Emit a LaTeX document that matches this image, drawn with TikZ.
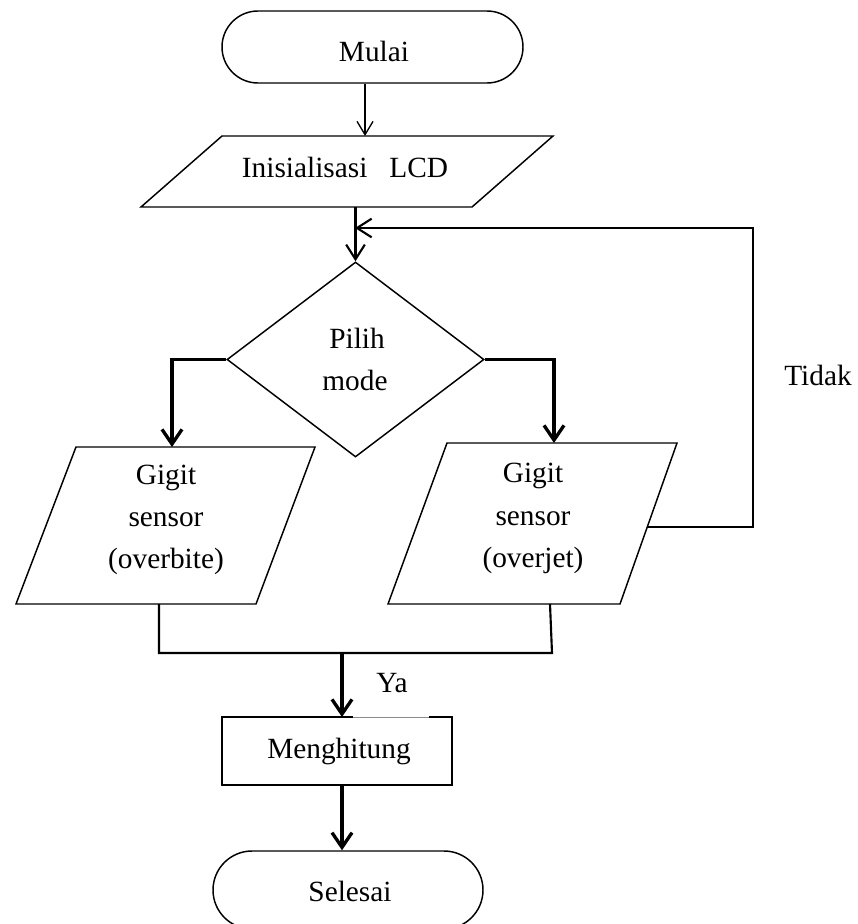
\documentclass[tikz,border=0pt]{standalone}
\usepackage{fontspec}
\setmainfont{Liberation Serif}
\usetikzlibrary{shapes.geometric,shapes.misc,arrows.meta}
\begin{document}
\begin{tikzpicture}[x=0.75pt,y=-0.75pt,
  lbl/.style={font=\fontsize{22}{26}\selectfont, inner sep=0pt, anchor=base},
  shp/.style={draw, line width=1.1pt},
  term/.style={shp, rounded rectangle, inner sep=0pt},
  thinarr/.style={line width=1pt, -{Straight Barb[length=10pt,width=12pt]}},
  midarr/.style={line width=1.6pt, -{Straight Barb[length=11pt,width=14pt]}},
  thkarr/.style={line width=2.5pt, -{Straight Barb[length=11pt,width=15pt]}},
  wire/.style={line width=1.6pt}]
\useasboundingbox (0,0) rectangle (857,924);

% shapes
\node[term, minimum width=225.75pt, minimum height=54pt] (mulai) at (372.5,47) {};
\draw[shp] (222,136) -- (553,136) -- (472,207) -- (141,207) -- cycle;
\node[shp, diamond, minimum width=192.75pt, minimum height=146.25pt, inner sep=0pt] (pilih) at (355.5,359.5) {};
\draw[shp] (76,447) -- (315,447) -- (256,604) -- (16,604) -- cycle;
\draw[shp] (447,443) -- (677,443) -- (620,604) -- (388,604) -- cycle;
\node[shp, rectangle, minimum width=172.5pt, minimum height=51pt, inner sep=0pt] (hitung) at (337,751) {};
\node[term, minimum width=202.5pt, minimum height=58.5pt] (selesai) at (348,890) {};

% light part of the box top
\draw[white, line width=1.8pt] (353,717) -- (429,717);
\draw[black!45, line width=0.5pt] (353,717) -- (429,717);

% named points
\coordinate (lcdIn) at (365,136);
\coordinate (lcdOut) at (355,207);
\coordinate (loopIn) at (355,228);
\coordinate (loopC1) at (753,527);
\coordinate (loopC2) at (753,228);
\coordinate (jetSide) at (648,527);
\coordinate (bitIn) at (172,447);
\coordinate (jetIn) at (554,443);
\coordinate (bitOut) at (159,604);
\coordinate (jetOut) at (550,604);
\coordinate (mergeL) at (159,653);
\coordinate (mergeR) at (552,653);
\coordinate (mergeM) at (342,653);
\coordinate (hitIn) at (342,717);

% texts
\node[lbl] (tmulai) at (374,62) {Mulai};
\node[lbl] (tlcd) at (345,177) {Inisialisasi\hspace{0.75em}LCD};
\node[lbl] (tpilih) at (357,348) {Pilih};
\node[lbl] (tmode) at (355,390) {mode};
\node[lbl] (tb1) at (166,484) {Gigit};
\node[lbl] (tb2) at (166,526) {sensor};
\node[lbl] (tb3) at (166,568) {(overbite)};
\node[lbl] (tj1) at (533,482) {Gigit};
\node[lbl] (tj2) at (533,525) {sensor};
\node[lbl] (tj3) at (533,567) {(overjet)};
\node[lbl] (ttidak) at (818,385) {Tidak};
\node[lbl] (tya) at (392,692) {Ya};
\node[lbl] (thitung) at (339,758) {Menghitung};
\node[lbl] (tselesai) at (350,901) {Selesai};

% connectors
\draw[thinarr] (mulai.south -| lcdIn) -- (lcdIn);
\draw[midarr] (lcdOut -| pilih.north) -- (pilih.north);
\draw[midarr] (jetSide) -- (loopC1) -- (loopC2) -- (loopIn);
\draw[thkarr] (pilih.west) -| (bitIn);
\draw[thkarr] (pilih.east) -| (jetIn);
\draw[wire] (bitOut) -- (mergeL) -- (mergeR) -- (jetOut);
\draw[thkarr] (mergeM) -- (hitIn);
\draw[thkarr] (hitung.south -| hitIn) -- (selesai.north -| hitIn);
\end{tikzpicture}
\end{document}
